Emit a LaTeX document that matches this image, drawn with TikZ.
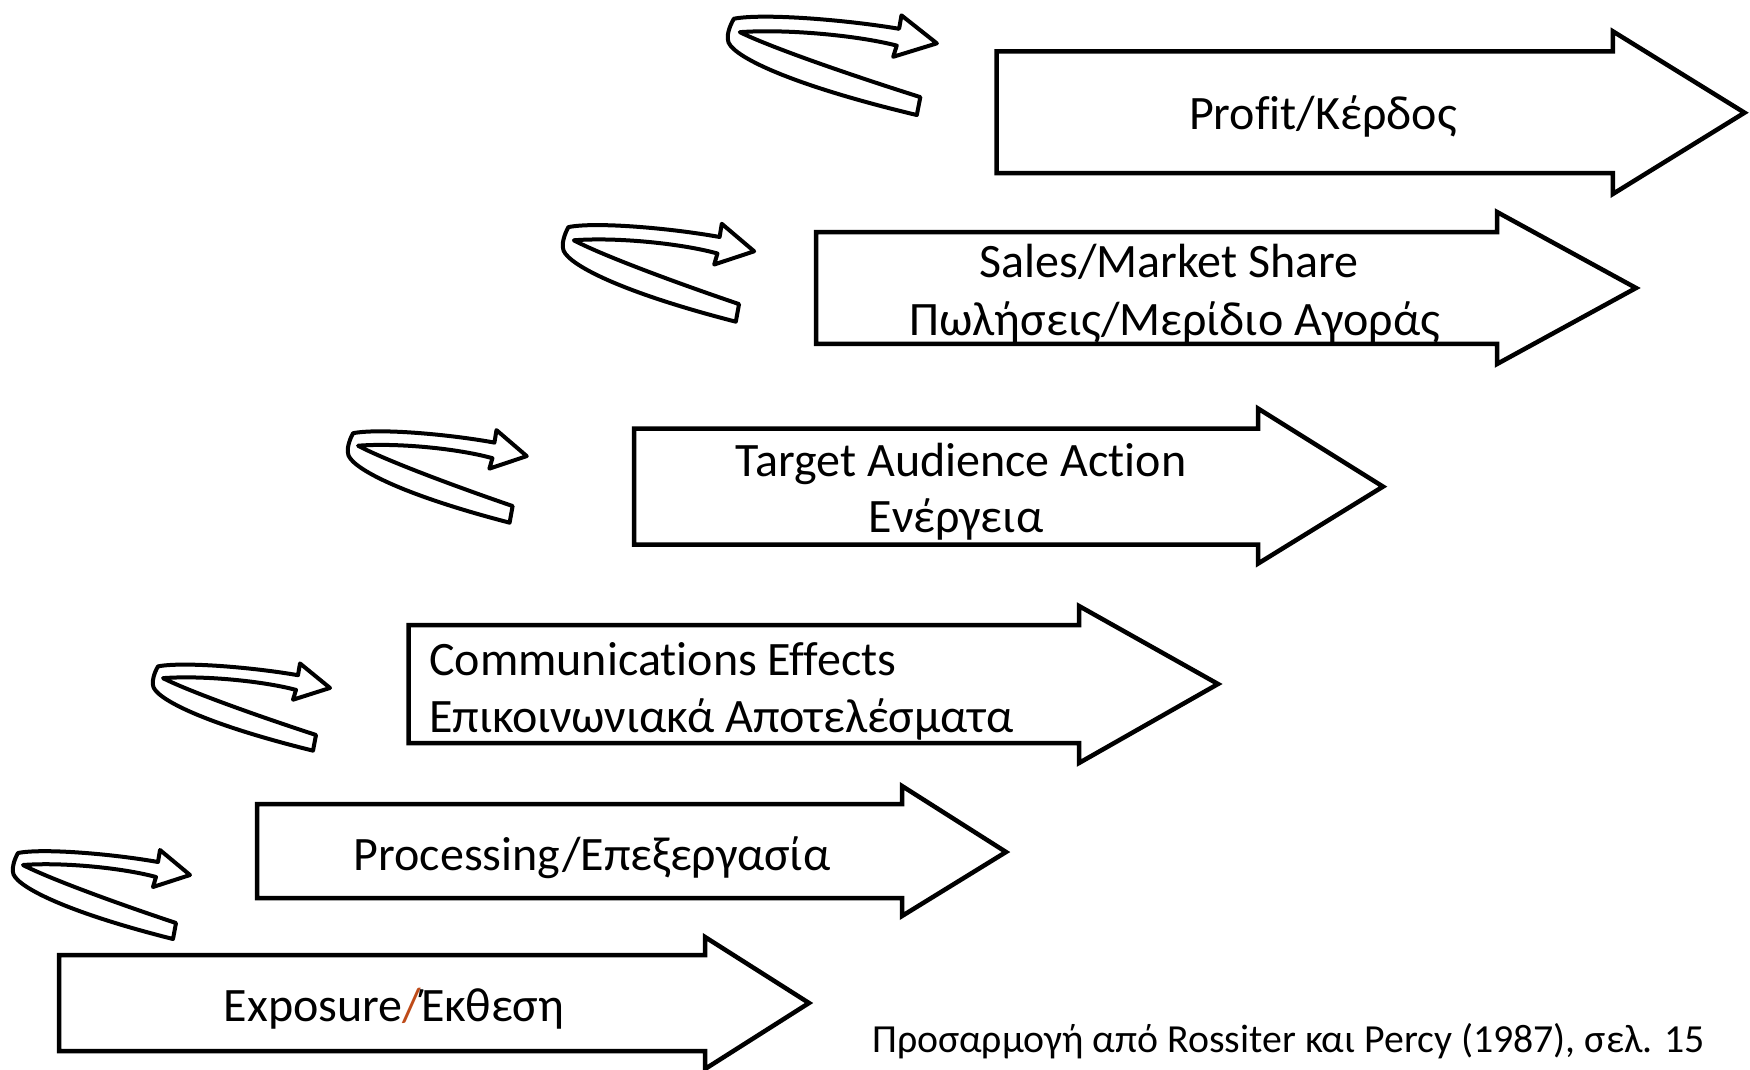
\documentclass[tikz,border=0pt]{standalone}
\usepackage{fontspec}
\setmainfont{Carlito}[Ligatures={NoCommon},RawFeature={-liga;-dlig;-clig}]
\definecolor{slashc}{RGB}{190,75,25}
\tikzset{
  blockarrow/.style={draw=black, line width=4.5pt, fill=white, line join=miter},
  ribbon/.style={draw=black, line width=4pt, fill=white, line join=round},
  lbl/.style={anchor=base, inner sep=0pt, font=\fontsize{48}{58}\selectfont},
  captionlbl/.style={anchor=base west, inner sep=0pt, font=\fontsize{39.8}{48}\selectfont},
}
\newcommand{\ribbonarrow}[4]{%
 \begin{scope}[shift={(#1,#2)}, xscale=#3, yscale=#4]
  \path[ribbon] (163,51) .. controls (100,30) and (35,6) .. (10,-7)
     .. controls (50,-10) and (110,-4) .. (143,5) -- (140,15) -- (177,3)
     -- (147,-22) -- (145,-10) .. controls (100,-18) and (30,-24) .. (5,-19)
     .. controls (1,-12) and (-1,-4) .. (0,0) .. controls (0,12) and (45,38) .. (160,67) -- cycle;
 \end{scope}}
\newcommand{\blockarr}[8]{%
  \path[blockarrow] (#1,#2) -- (#4,#2) -- (#4,#5) -- (#7,#8) -- (#4,#6) -- (#4,#3) -- (#1,#3) -- cycle;}
\begin{document}
\begin{tikzpicture}[x=1pt,y=-1pt]
\useasboundingbox[fill=white] (0,0) rectangle (1750,1070);
% block arrows
\blockarr{59}{955}{1051}{705}{937}{1069}{809}{1003}
\blockarr{257}{804}{898}{902}{786}{916}{1006}{852}
\blockarr{408.5}{625}{743}{1079}{606}{763}{1218}{684}
\blockarr{634}{428.6}{544.7}{1258}{408.5}{563.6}{1383}{486.6}
\blockarr{816}{232}{343.8}{1497}{212}{364}{1636}{288}
\blockarr{996.7}{51.3}{173}{1612.8}{31.3}{194}{1744.5}{112.7}
% ribbon arrows
\ribbonarrow{728}{40}{1.18}{1.12}
\ribbonarrow{563}{248}{1.08}{1.1}
\ribbonarrow{348}{453}{1.01}{1.04}
\ribbonarrow{153}{685}{1.0}{0.98}
\ribbonarrow{13}{872}{1.0}{1.0}
% labels
\node[lbl] (profit) at (1323,129.5) {Profit/Κέρδος};
\node[lbl] (sales1) at (1169,277) {Sales/Market Share};
\node[lbl] (sales2) at (1175,335) {Πωλήσεις/Μερίδιο Αγοράς};
\node[lbl] (target1) at (961,476.5) {Target Audience Action};
\node[lbl] (target2) at (956,532) {Ενέργεια};
\node[lbl, anchor=base west] (comm1) at (429,675) {Communications Effects};
\node[lbl, anchor=base west] (comm2) at (429,732) {Επικοινωνιακά Αποτελέσματα};
\node[lbl] (proc) at (592,870.5) {Processing/Επεξεργασία};
\node[lbl] (expo) at (394,1021) {Exposure{\color{slashc}/}Έκθεση};
\node[captionlbl] (caption) at (872,1052) {Προσαρμογή από Rossiter και Percy (1987), σελ. 15};
\end{tikzpicture}
\end{document}
